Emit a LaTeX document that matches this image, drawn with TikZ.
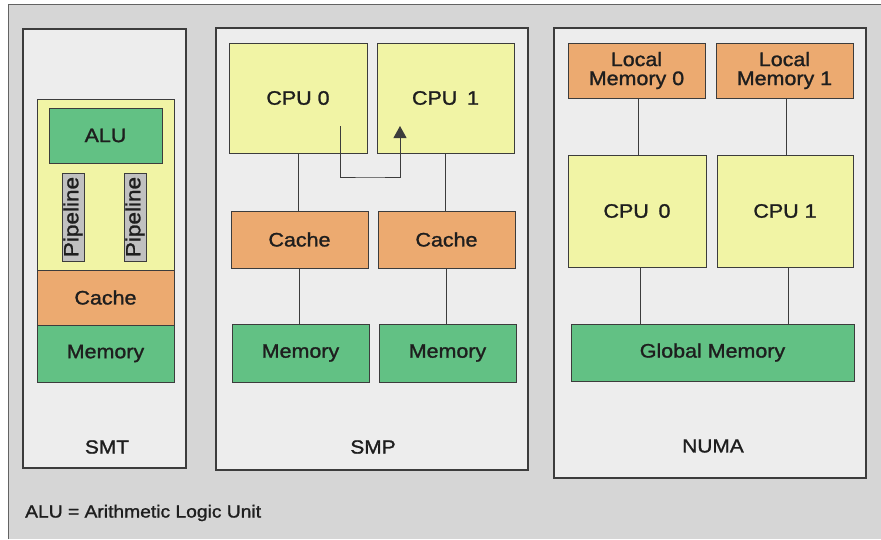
\documentclass[tikz,border=0pt]{standalone}
\usepackage{fontspec}
\setmainfont[FakeStretch=1.1, FakeBold=1.3]{Liberation Sans}
\usetikzlibrary{arrows.meta}
\definecolor{bgGrey}{RGB}{214,214,214}
\definecolor{panelGrey}{RGB}{237,237,237}
\definecolor{cpuYellow}{RGB}{241,244,165}
\definecolor{cacheOrange}{RGB}{236,170,112}
\definecolor{memGreen}{RGB}{98,193,132}
\definecolor{pipeGrey}{RGB}{192,192,192}
\definecolor{inkDark}{RGB}{30,30,30}
\definecolor{edgeDark}{RGB}{60,60,60}
\tikzset{
  panel/.style={draw=edgeDark, line width=1.1pt, fill=panelGrey, inner sep=0pt},
  unit/.style={draw=edgeDark, line width=0.9pt, inner sep=0pt, align=center,
    text=inkDark, font=\fontsize{19.5}{21}\selectfont},
  cpubox/.style={unit, fill=cpuYellow},
  cachebox/.style={unit, fill=cacheOrange},
  membox/.style={unit, fill=memGreen},
  pipebox/.style={unit, fill=pipeGrey, font=\fontsize{20.5}{21}\selectfont},
  caption/.style={text=inkDark, inner sep=0pt, font=\fontsize{19}{21}\selectfont},
  link/.style={draw=edgeDark, line width=1pt},
  msgtip/.style={-{Triangle[length=12pt, width=13pt]}}
}
\begin{document}
\begin{tikzpicture}[x=1pt, y=-1pt]
\useasboundingbox (0,0) rectangle (881,539);
% page background with its dark top and left rule
\fill[bgGrey] (8,4) rectangle (881,539);
\draw[edgeDark!80, line width=1pt] (8,539) -- (8,4) -- (881,4);

% ---------------- SMT ----------------
\node[panel, minimum width=163, minimum height=439] (smt) at (104.5,248.5) {};
\node[cpubox, minimum width=137, minimum height=171] (core) at (105.5,184.5) {};
\node[membox, minimum width=113, minimum height=55] (alu) at (105.5,135.5) {ALU};
\node[pipebox, minimum width=88, minimum height=22, rotate=90] (pipeA) at (73,217) {Pipeline};
\node[pipebox, minimum width=88, minimum height=22, rotate=90] (pipeB) at (135,217) {Pipeline};
\node[cachebox, minimum width=137, minimum height=55] (smtcache) at (105.5,297.5) {Cache};
\node[membox, minimum width=137, minimum height=57] (smtmem) at (105.5,353.5) {Memory};
\node[caption] (smtlabel) at (107,447) {SMT};

% ---------------- SMP ----------------
\node[panel, minimum width=312, minimum height=442] (smp) at (372,249) {};
\node[cpubox, minimum width=138, minimum height=110] (cpuA) at (298,98) {CPU 0};
\node[cpubox, minimum width=137, minimum height=110] (cpuB) at (445.5,98) {CPU\hspace{0.5em}1};
\node[cachebox, minimum width=137, minimum height=57] (cacheA) at (299.5,239.5) {Cache};
\node[cachebox, minimum width=137, minimum height=57] (cacheB) at (446.5,239.5) {Cache};
\node[membox, minimum width=137, minimum height=58] (memA) at (300.5,353) {Memory};
\node[membox, minimum width=137, minimum height=58] (memB) at (447.5,353) {Memory};
\node[caption] (smplabel) at (373,447) {SMP};

\draw[link] (cpuA.south) -- (cpuA.south |- cacheA.north);
\draw[link] (cpuB.south) -- (cpuB.south |- cacheB.north);
\draw[link] (cacheA.south) -- (cacheA.south |- memA.north);
\draw[link] (cacheB.south) -- (cacheB.south |- memB.north);

% message passed from CPU 0 to CPU 1
\coordinate (msgFrom) at (340,126);
\coordinate (msgTurn) at (370,177);
\coordinate (msgTo) at (400,126);
\draw[link, msgtip] (msgFrom) |- (msgTurn) -| (msgTo);

% ---------------- NUMA ----------------
\node[panel, minimum width=312, minimum height=450] (numa) at (710,253) {};
\node[cachebox, minimum width=137, minimum height=55] (locA) at (636.5,70.5) {Local\\[-2pt]Memory 0};
\node[cachebox, minimum width=137, minimum height=55] (locB) at (784.5,70.5) {Local\\[-2pt]Memory 1};
\node[cpubox, minimum width=138, minimum height=112] (ncpuA) at (637,211) {CPU\hspace{0.5em}0};
\node[cpubox, minimum width=136, minimum height=112] (ncpuB) at (785,211) {CPU 1};
\node[membox, minimum width=283, minimum height=57] (gmem) at (712.5,352.5) {Global Memory};
\node[caption] (numalabel) at (713,446) {NUMA};

\draw[link] ([xshift=2pt]locA.south) -- ([xshift=2pt]locA.south |- ncpuA.north);
\draw[link] ([xshift=2pt]locB.south) -- ([xshift=2pt]locB.south |- ncpuB.north);
\draw[link] ([xshift=3pt]ncpuA.south) -- ([xshift=3pt]ncpuA.south |- gmem.north);
\draw[link] ([xshift=3pt]ncpuB.south) -- ([xshift=3pt]ncpuB.south |- gmem.north);

% ---------------- legend ----------------
\node[caption, anchor=west, font=\fontsize{17.5}{20}\selectfont] (legend) at (25,513) {ALU = Arithmetic Logic Unit};
\end{tikzpicture}
\end{document}
